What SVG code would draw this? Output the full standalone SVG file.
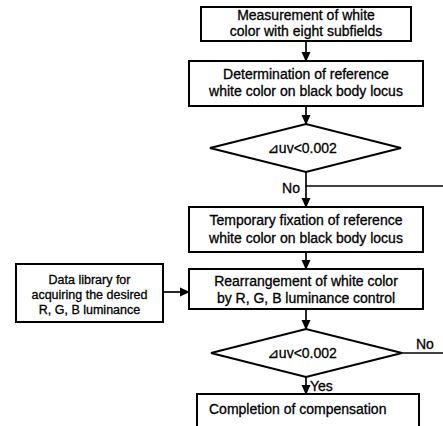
<svg xmlns="http://www.w3.org/2000/svg" width="443" height="426" viewBox="0 0 443 426">
<defs>
<style>
.box{fill:#fff;stroke:#000;stroke-width:2}
.ln{fill:none;stroke:#000;stroke-width:1.7}
.t{font-family:"Liberation Sans","DejaVu Sans",Arial,sans-serif;font-size:14px;fill:#000;stroke:#000;stroke-width:0.3;text-anchor:middle}
.s{font-size:12.5px}
.l{text-anchor:start}
.e{text-anchor:end}
</style>
<marker id="ah" markerWidth="10" markerHeight="10" refX="9" refY="5" orient="auto" markerUnits="userSpaceOnUse">
<path d="M0,0.5 L10,5 L0,9.5 Z" fill="#000"/>
</marker>
</defs>
<rect width="443" height="426" fill="#fff"/>
<g id="connectors">
<line class="ln" x1="306" y1="41" x2="306" y2="61" marker-end="url(#ah)"/>
<line class="ln" x1="306" y1="106" x2="306" y2="124" marker-end="url(#ah)"/>
<line class="ln" x1="306" y1="172" x2="306" y2="207" marker-end="url(#ah)"/>
<line class="ln" x1="306" y1="186" x2="443" y2="186"/>
<line class="ln" x1="306" y1="252" x2="306" y2="269" marker-end="url(#ah)"/>
<line class="ln" x1="163" y1="292" x2="189" y2="292" marker-end="url(#ah)"/>
<line class="ln" x1="306" y1="309" x2="306" y2="329" marker-end="url(#ah)"/>
<line class="ln" x1="402" y1="353" x2="443" y2="353"/>
<line class="ln" x1="306" y1="377" x2="306" y2="394" marker-end="url(#ah)"/>
<text class="t e" x="300" y="193">No</text>
<text class="t l" x="416" y="349">No</text>
<text class="t l" x="310" y="391">Yes</text>
</g>
<g id="n1">
<rect class="box" x="201" y="7" width="210" height="34"/>
<text class="t" x="306" y="20">Measurement of white</text>
<text class="t" x="306" y="36">color with eight subfields</text>
</g>
<g id="n2">
<rect class="box" x="189" y="61" width="234" height="45"/>
<text class="t" x="306" y="79">Determination of reference</text>
<text class="t" x="306" y="96">white color on black body locus</text>
</g>
<g id="d1">
<polygon class="box" points="210,148 306,124 401,148 306,172"/>
<text class="t" x="302" y="153">⊿uv&lt;0.002</text>
</g>
<g id="n3">
<rect class="box" x="189" y="207" width="234" height="45"/>
<text class="t" x="306" y="225">Temporary fixation of reference</text>
<text class="t" x="306" y="243">white color on black body locus</text>
</g>
<g id="n4">
<rect class="box" x="189" y="269" width="234" height="40"/>
<text class="t" x="306" y="286">Rearrangement of white color</text>
<text class="t" x="306" y="303">by R, G, B luminance control</text>
</g>
<g id="lib">
<rect class="box" x="16" y="264" width="147" height="58"/>
<text class="t s" x="89.5" y="284">Data library for</text>
<text class="t s" x="89.5" y="299">acquiring the desired</text>
<text class="t s" x="89.5" y="314">R, G, B luminance</text>
</g>
<g id="d2">
<polygon class="box" points="211,353 306,329 402,353 306,377"/>
<text class="t" x="302" y="358">⊿uv&lt;0.002</text>
</g>
<g id="n5">
<path class="box" d="M197,430 V394 H419 V430"/>
<text class="t l" x="209" y="414">Completion of compensation</text>
</g>
</svg>
